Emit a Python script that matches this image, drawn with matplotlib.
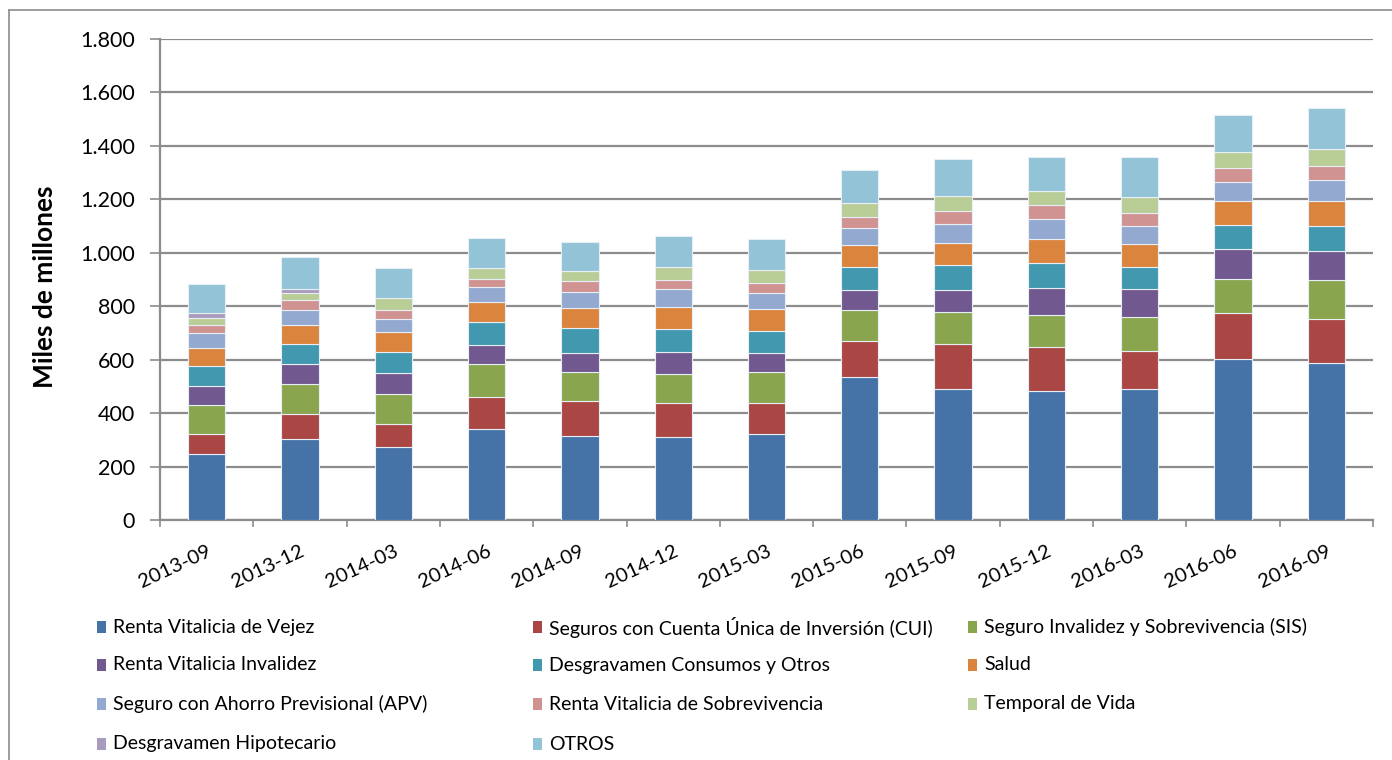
import matplotlib
matplotlib.use("Agg")
import matplotlib.pyplot as plt
import numpy as np
from matplotlib.ticker import FuncFormatter, FixedLocator
from matplotlib.patches import Rectangle
from matplotlib.lines import Line2D

plt.rcParams['font.family'] = ['Lato', 'DejaVu Sans']

periods = ["2013-09", "2013-12", "2014-03", "2014-06", "2014-09", "2014-12", "2015-03",
           "2015-06", "2015-09", "2015-12", "2016-03", "2016-06", "2016-09"]

series_names = [
    "Renta Vitalicia de Vejez",
    "Seguros con Cuenta Única de Inversión (CUI)",
    "Seguro Invalidez y Sobrevivencia (SIS)",
    "Renta Vitalicia Invalidez",
    "Desgravamen Consumos y Otros",
    "Salud",
    "Seguro con Ahorro Previsional (APV)",
    "Renta Vitalicia de Sobrevivencia",
    "Temporal de Vida",
    "Desgravamen Hipotecario",
    "OTROS",
]

vejez = [247, 303, 273, 340, 315, 309, 323, 536, 489, 481, 490, 604, 588]
cui = [75, 94, 85, 120, 130, 127, 116, 134, 171, 167, 144, 172, 165]
sis = [107, 113, 114, 124, 108, 110, 116, 116, 118, 120, 126, 127, 145]
invalidez = [71, 74, 77, 70, 73, 84, 71, 73, 82, 102, 103, 112, 110]
desgr_consumos = [75, 75, 81, 86, 94, 86, 82, 86, 93, 90, 82, 89, 93]
salud = [69, 71, 72, 74, 73, 80, 83, 83, 83, 90, 89, 89, 93]
apv = [56, 56, 49, 59, 60, 70, 59, 63, 70, 76, 67, 73, 79]
sobrevivencia = [29, 36, 33, 30, 40, 34, 38, 43, 49, 54, 49, 50, 50]
temporal_vida = [26, 28, 47, 40, 38, 48, 47, 54, 58, 51, 60, 63, 65]
desgr_hipotecario = [19, 15, 0, 0, 0, 0, 0, 0, 0, 0, 0, 0, 0]
otros = [110, 118, 112, 112, 110, 115, 118, 122, 138, 129, 148, 136, 152]

series_values = [vejez, cui, sis, invalidez, desgr_consumos, salud, apv,
                 sobrevivencia, temporal_vida, desgr_hipotecario, otros]

colors = ["#4572A7", "#AA4643", "#89A54E", "#71588F", "#4198AF", "#DB843D",
          "#93A9CF", "#D19392", "#B9CD96", "#A99BBD", "#92C3D6"]

W, H = 1392, 760
fig = plt.figure(figsize=(W / 100, H / 100), dpi=100)
ax = fig.add_axes([160 / W, 1 - 520 / H, (1373 - 160) / W, (520 - 39) / H])

x = np.arange(len(periods))
bottom = np.zeros(len(periods))
for name, vals, col in zip(series_names, series_values, colors):
    v = np.array(vals, dtype=float)
    ax.bar(x, v, bottom=bottom, width=0.4, color=col, edgecolor="#e8eef5",
           linewidth=0.8, label=name, zorder=3)
    bottom += v

ax.set_xlim(-0.5, len(periods) - 0.5)
ax.set_ylim(0, 1800)
ax.set_yticks(np.arange(0, 1801, 200))
ax.yaxis.set_major_formatter(FuncFormatter(lambda v, p: f"{int(v):,}".replace(",", ".")))
ax.grid(axis="y", color="#8c8c8c", linewidth=1.6, zorder=0)
ax.set_axisbelow(True)

for s in ["top", "right"]:
    ax.spines[s].set_visible(False)
for s in ["left", "bottom"]:
    ax.spines[s].set_color("#8c8c8c")
    ax.spines[s].set_linewidth(1.6)

ax.tick_params(axis="y", direction="out", length=7, width=1.2, color="#8c8c8c",
               labelsize=15.5, pad=11, labelcolor="black")
ax.set_xticks(x)
ax.set_xticklabels(periods, rotation=25, ha="right", va="top",
                   rotation_mode="anchor", fontsize=14.5)
ax.tick_params(axis="x", which="major", length=0, pad=16)
ax.xaxis.set_minor_locator(FixedLocator(np.arange(-0.5, len(periods), 1.0)))
ax.tick_params(axis="x", which="minor", direction="out", length=5, width=1.2,
               color="#8c8c8c")

fig.text(45 / W, 1 - 287 / H, "Miles de millones", rotation=90, ha="center",
         va="center", fontsize=19, fontweight="bold")

# legend (3 columns, manually placed)
col_x = [97, 533, 968]
row_y = [627, 665, 704, 744]
for i, (name, col) in enumerate(zip(series_names, colors)):
    c, r = i % 3, i // 3
    mx, my = col_x[c], row_y[r]
    fig.add_artist(Rectangle((mx / W, 1 - (my + 6) / H), 9 / W, 12 / H,
                             transform=fig.transFigure, facecolor=col,
                             edgecolor="none"))
    fig.text((mx + 16) / W, 1 - my / H, name, ha="left", va="center",
             fontsize=14)

# chart border
fig.add_artist(Line2D([9 / W, 9 / W], [0, 1 - 10 / H], transform=fig.transFigure,
                      color="#8c8c8c", linewidth=1.2))
fig.add_artist(Line2D([9 / W, 1], [1 - 10 / H, 1 - 10 / H], transform=fig.transFigure,
                      color="#8c8c8c", linewidth=1.2))

fig.savefig("out.png", dpi=100)
